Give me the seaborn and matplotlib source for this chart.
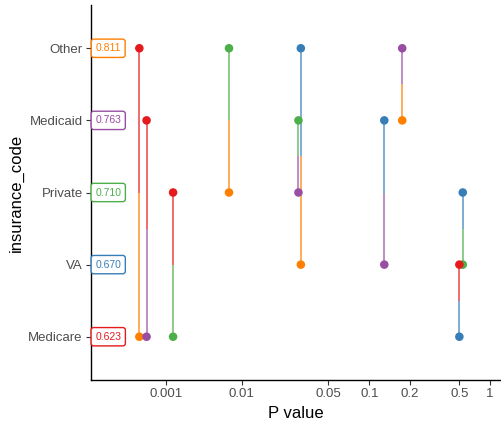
import numpy as np
import pandas as pd
import matplotlib
matplotlib.use("Agg")
import matplotlib.pyplot as plt
import matplotlib.scale as mscale
import matplotlib.transforms as mtransforms
import seaborn as sns

# Categories (bottom to top) and their summary scores
categories = ["Medicare", "VA", "Private", "Medicaid", "Other"]
auc = [0.623, 0.670, 0.710, 0.763, 0.811]

# Pairwise comparisons and their p values
pair_a = ["Other", "Medicaid", "Private", "Other", "Other",
          "Medicaid", "Medicaid", "Other", "Private", "VA"]
pair_b = ["Medicare", "Medicare", "Medicare", "Private", "VA",
          "Private", "VA", "Medicaid", "VA", "Medicare"]
p_values = [0.00045, 0.00056, 0.00125, 0.0068, 0.030,
            0.0287, 0.129, 0.175, 0.54, 0.50]

tick_values = [0.001, 0.01, 0.05, 0.1, 0.2, 0.5, 1]
tick_labels = ["0.001", "0.01", "0.05", "0.1", "0.2", "0.5", "1"]

palette = {"Medicare": "#E41A1C", "VA": "#377EB8", "Private": "#4DAF4A",
           "Medicaid": "#984EA3", "Other": "#FF7F00"}

# Each comparison is drawn twice: from each row halfway towards the partner,
# coloured by the partner category.
ypos = {c: i + 1 for i, c in enumerate(categories)}
rows = []
for a, b, p in zip(pair_a, pair_b, p_values):
    for row, partner in ((a, b), (b, a)):
        y0 = ypos[row]
        rows.append(dict(row=row, partner=partner, p=p, y=y0,
                         ymid=(y0 + ypos[partner]) / 2))
df = pd.DataFrame(rows)

# Stretched p-value axis (piecewise in log10 p)
knot_log = np.log10([1e-5, 1e-3, 1e-2, 0.05, 0.1, 0.2, 0.5, 1, 10])
knot_pos = np.array([13.7, 165.7, 241.7, 328.3, 369.3, 410.0, 459.3, 490.0, 592.0])


def fwd(p):
    p = np.asarray(p, dtype=float)
    return np.interp(np.log10(np.clip(p, 1e-300, None)), knot_log, knot_pos)


def inv(x):
    x = np.asarray(x, dtype=float)
    return 10 ** np.interp(x, knot_pos, knot_log)


sns.set_theme(style="ticks")
plt.rcParams["font.family"] = ["Liberation Sans", "DejaVu Sans"]

W, H = 502, 430
fig = plt.figure(figsize=(W / 100, H / 100), dpi=100)
ax = fig.add_axes([91 / W, (H - 380) / H, (501 - 91) / W, (380 - 5) / H])
ax.set_xscale(mscale.FuncScale(ax, (fwd, inv)))

for _, r in df.iterrows():
    ax.vlines(r["p"], r["y"], r["ymid"], color=palette[r["partner"]],
              lw=1.2, alpha=0.75, zorder=2)

sns.scatterplot(data=df, x="p", y="y", hue="partner", palette=palette,
                s=38, edgecolor="none", legend=False, zorder=3, ax=ax)

ax.set_xlim(1.04e-4, 1.28)
ax.set_ylim(0.4, 5.6)
ax.set_xticks(tick_values)
ax.set_xticklabels(tick_labels)
ax.xaxis.set_minor_locator(matplotlib.ticker.NullLocator())
ax.set_yticks([ypos[c] for c in categories])
ax.set_yticklabels(categories)

ax.tick_params(axis="both", labelsize=9.5, labelcolor="#4D4D4D",
               color="#333333", length=3.5, width=0.8, pad=2.5)
for side in ("top", "right"):
    ax.spines[side].set_visible(False)
for side in ("left", "bottom"):
    ax.spines[side].set_color("black")
    ax.spines[side].set_linewidth(1.0)

ax.set_xlabel("P value", fontsize=12, color="black", labelpad=4)
ax.set_ylabel("insurance_code", fontsize=12, color="black", labelpad=3)

# Score labels beside the axis
trans = mtransforms.blended_transform_factory(ax.transAxes, ax.transData)
for c, v in zip(categories, auc):
    ax.text(0.042, ypos[c], f"{v:.3f}", transform=trans, ha="center",
            va="center", fontsize=7.5, color=palette[c], zorder=4,
            bbox=dict(boxstyle="round,pad=0.4,rounding_size=0.25",
                      fc="white", ec=palette[c], lw=1.0))

fig.savefig("out.png", dpi=100)
